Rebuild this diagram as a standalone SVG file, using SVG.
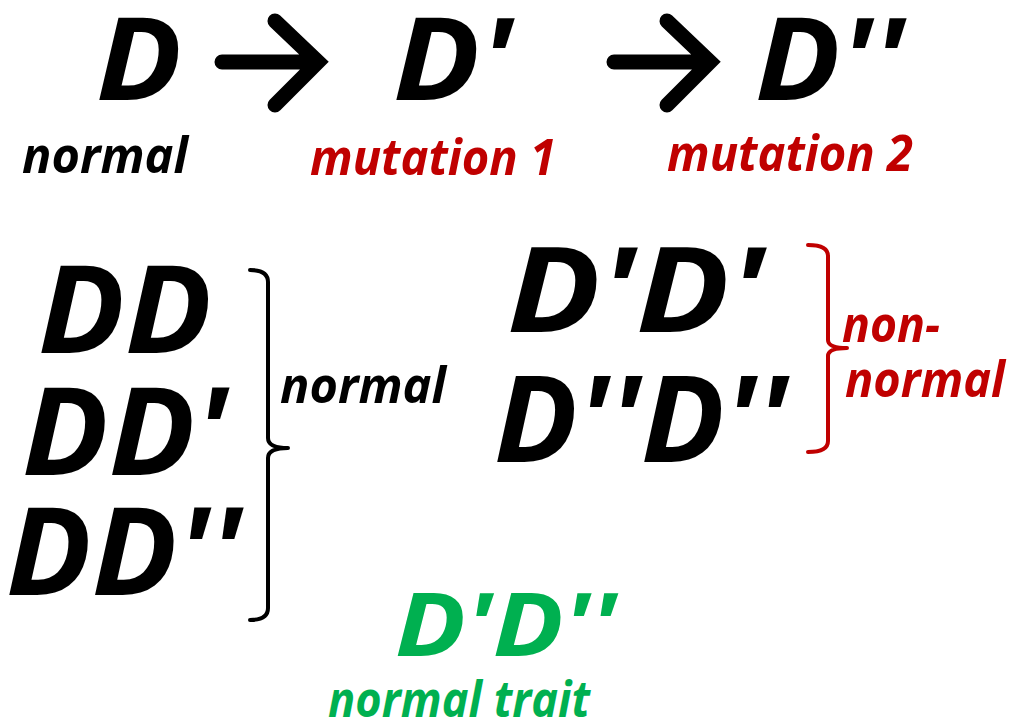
<svg xmlns="http://www.w3.org/2000/svg" width="1017" height="728" viewBox="0 0 1017 728">
<style>
  text { font-family: "Open Sans", "Liberation Sans", sans-serif; font-weight: bold; font-style: italic; }
  .blk { fill: #000000; }
  .red { fill: #c00000; }
  .grn { fill: #00b050; }
  .lbl { font-size: 50px; }
  .arrow { fill: none; stroke: #000000; stroke-width: 15; stroke-linecap: round; stroke-linejoin: miter; }
  .brk { fill: none; stroke-width: 4; stroke-linecap: round; stroke-linejoin: round; }
</style>
<rect width="1017" height="728" fill="#ffffff"/>
<g id="top-D"><text class="blk" x="96" y="100" font-size="115" textLength="86" lengthAdjust="spacingAndGlyphs">D</text></g>
<g id="top-D1"><text class="blk" x="393" y="100" font-size="115" textLength="120" lengthAdjust="spacingAndGlyphs">D'</text></g>
<g id="top-D2"><text class="blk" x="755" y="100" font-size="115" textLength="150" lengthAdjust="spacingAndGlyphs">D''</text></g>
<g id="lbl-normal"><text class="blk lbl" x="22" y="173" textLength="166" lengthAdjust="spacingAndGlyphs">normal</text></g>
<g id="lbl-mut1"><text class="red lbl" x="310" y="175" textLength="246" lengthAdjust="spacingAndGlyphs">mutation 1</text></g>
<g id="lbl-mut2"><text class="red lbl" x="667" y="171" textLength="246" lengthAdjust="spacingAndGlyphs">mutation 2</text></g>
<g id="connectors">
  <path class="arrow" d="M222,62 H314 M275,21 L318,62 L275,105"/>
  <path class="arrow" d="M614,62 H706 M667,21 L710,62 L667,105"/>
</g>
<g id="DD"><text class="blk" x="38" y="353" font-size="122" textLength="174" lengthAdjust="spacingAndGlyphs">DD</text></g>
<g id="DD1"><text class="blk" x="22" y="475" font-size="122" textLength="206" lengthAdjust="spacingAndGlyphs">DD'</text></g>
<g id="DD2"><text class="blk" x="6" y="595" font-size="122" textLength="236" lengthAdjust="spacingAndGlyphs">DD''</text></g>
<g id="bracket-normal">
  <path class="brk" stroke="#000000" d="M250,270 Q268,270 268,282 V438 Q268,448 288,448 Q268,448 268,458 V608 Q268,620 250,620"/>
  <text class="blk lbl" x="280" y="403" textLength="166" lengthAdjust="spacingAndGlyphs">normal</text>
</g>
<g id="D1D1"><text class="blk" x="507" y="332" font-size="118" textLength="258" lengthAdjust="spacingAndGlyphs">D'D'</text></g>
<g id="D2D2"><text class="blk" x="494" y="462" font-size="120" textLength="294" lengthAdjust="spacingAndGlyphs">D''D''</text></g>
<g id="bracket-nonnormal">
  <path class="brk" stroke="#c00000" stroke-width="3.5" d="M808,245 Q828,245 828,256 V340 Q828,348 847,348 Q828,348 828,356 V441 Q828,452 808,452"/>
  <text class="red lbl" x="842" y="342" textLength="98" lengthAdjust="spacingAndGlyphs">non-</text>
  <text class="red lbl" x="845" y="397" textLength="160" lengthAdjust="spacingAndGlyphs">normal</text>
</g>
<g id="D1D2"><text class="grn" x="395" y="656" font-size="88" textLength="222" lengthAdjust="spacingAndGlyphs">D'D''</text></g>
<g id="lbl-trait"><text class="grn lbl" x="328" y="717" textLength="262" lengthAdjust="spacingAndGlyphs">normal trait</text></g>
</svg>
